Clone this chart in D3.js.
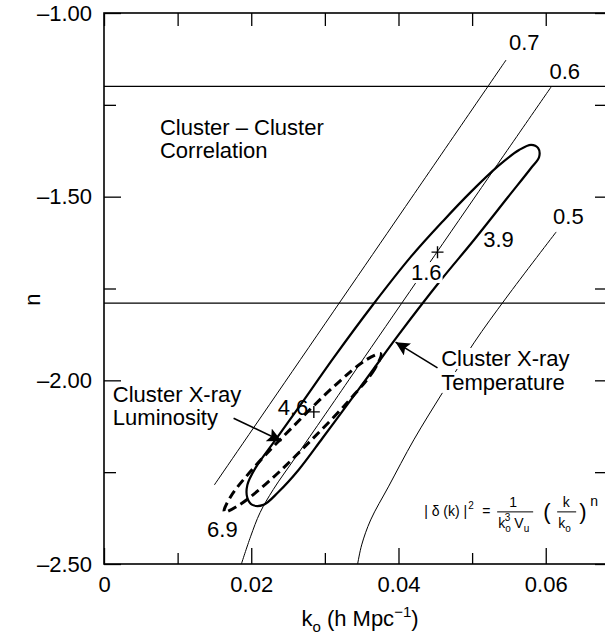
<!DOCTYPE html>
<html>
<head>
<meta charset="utf-8">
<script src="https://cdn.jsdelivr.net/npm/d3@7/dist/d3.min.js"></script>
<style>
  body { margin: 0; background: #fff; }
  svg { display: block; font-family: "Liberation Sans", Arial, Helvetica, sans-serif; }
</style>
</head>
<body>
<div id="chart"></div>
<script>
// axis ticks
var xMajor = [0, 0.02, 0.04, 0.06];
var xLabels = ["0", "0.02", "0.04", "0.06"];
var xMinor = [0.01, 0.03, 0.05];
var yMajor = [-1.0, -1.5, -2.0, -2.5];
var yLabels = ["\u20131.00", "\u20131.50", "\u20132.00", "\u20132.50"];
var yMinor = [-1.25, -1.75, -2.25];

// cluster-cluster correlation band
var bandN = [-1.20, -1.79];

// normalisation curves (k0, n)
var curve07 = [[0.01498, -2.285], [0.04167, -1.506], [0.05461, -1.128]];
var curve06 = [[0.01866, -2.5], [0.0199, -2.426], [0.0212, -2.36], [0.0230, -2.297],
  [0.0260, -2.210], [0.0300, -2.094], [0.03391, -1.980], [0.05011, -1.509], [0.06074, -1.201]];
var curve05 = [[0.03445, -2.5], [0.03500, -2.448], [0.03622, -2.380], [0.03868, -2.288],
  [0.04208, -2.162], [0.04603, -2.032], [0.05025, -1.898], [0.05461, -1.776], [0.06142, -1.596]];

// likelihood contours
var tempContour = [[0.02015, -2.339], [0.01947, -2.320], [0.01947, -2.285], [0.02056, -2.239],
  [0.02329, -2.162], [0.02669, -2.067], [0.03118, -1.939], [0.03650, -1.795], [0.04167, -1.664],
  [0.04616, -1.564], [0.04984, -1.487], [0.05352, -1.417], [0.05638, -1.373], [0.05801, -1.359],
  [0.05897, -1.368], [0.05910, -1.392], [0.05801, -1.422], [0.05488, -1.501], [0.05025, -1.618],
  [0.04576, -1.727], [0.03990, -1.879], [0.03622, -1.980], [0.03350, -2.054], [0.02969, -2.157],
  [0.02642, -2.244], [0.02369, -2.304], [0.02165, -2.339]];
var lumContour = [[0.03759, -1.928], [0.03677, -1.969], [0.03323, -2.056], [0.02805, -2.165],
  [0.02261, -2.271], [0.01838, -2.339], [0.01634, -2.358], [0.01716, -2.318], [0.02070, -2.230],
  [0.02587, -2.122], [0.03132, -2.015], [0.03554, -1.945]];
var bestFit = [[0.0453, -1.651], [0.0285, -2.086]];

// labels: text, k0, n
var curveLabels = [["0.7", 0.0550, -1.101], ["0.6", 0.0605, -1.180], ["0.5", 0.0610, -1.574],
  ["3.9", 0.0515, -1.637], ["1.6", 0.0417, -1.727], ["4.6", 0.0236, -2.094], ["6.9", 0.0140, -2.426]];

var W = 605, H = 634;
var svg = d3.select("#chart").append("svg").attr("width", W).attr("height", H);

var x = d3.scaleLinear().domain([0, 0.069]).range([104, 612]);
var y = d3.scaleLinear().domain([-2.5, -1.0]).range([564, 13]);

var defs = svg.append("defs");
defs.append("marker").attr("id", "head")
  .attr("viewBox", "0 0 10 10").attr("refX", 10).attr("refY", 5)
  .attr("markerWidth", 14).attr("markerHeight", 14).attr("markerUnits", "userSpaceOnUse")
  .attr("orient", "auto")
  .append("path").attr("d", "M0,0 L10,5 L0,10 L2,5 Z").attr("fill", "#000");

function styleAxis(g) {
  g.select(".domain").remove();
  g.selectAll("line").attr("stroke", "#000").attr("stroke-width", 1.3);
  g.attr("font-size", 22).attr("font-family", null);
  g.selectAll("text").attr("fill", "#000");
}

// axes, ticks pointing inward
svg.append("g").attr("transform", "translate(0," + y(-2.5) + ")")
  .call(d3.axisBottom(x).tickValues(xMajor).tickFormat(function(d, i) { return xLabels[i]; })
    .tickSizeInner(-16).tickSizeOuter(0).tickPadding(12))
  .call(styleAxis);
svg.append("g").attr("transform", "translate(0," + y(-2.5) + ")")
  .call(d3.axisBottom(x).tickValues(xMinor).tickFormat("").tickSizeInner(-11).tickSizeOuter(0))
  .call(styleAxis);
svg.append("g").attr("transform", "translate(0," + y(-1.0) + ")")
  .call(d3.axisTop(x).tickValues(xMajor.concat(xMinor)).tickFormat("").tickSizeInner(-13).tickSizeOuter(0))
  .call(styleAxis);
svg.append("g").attr("transform", "translate(" + x(0) + ",0)")
  .call(d3.axisLeft(y).tickValues(yMajor).tickFormat(function(d, i) { return yLabels[i]; })
    .tickSizeInner(-17).tickSizeOuter(0).tickPadding(12))
  .call(styleAxis);
svg.append("g").attr("transform", "translate(" + x(0) + ",0)")
  .call(d3.axisLeft(y).tickValues(yMinor).tickFormat("").tickSizeInner(-12).tickSizeOuter(0))
  .call(styleAxis);
svg.append("g").attr("transform", "translate(" + x(0.069) + ",0)")
  .call(d3.axisRight(y).tickValues(yMajor.concat(yMinor)).tickFormat("").tickSizeInner(-17).tickSizeOuter(0))
  .call(styleAxis);

// frame
svg.append("rect")
  .attr("x", x(0)).attr("y", y(-1.0))
  .attr("width", x(0.069) - x(0)).attr("height", y(-2.5) - y(-1.0))
  .attr("fill", "none").attr("stroke", "#000").attr("stroke-width", 1.6);

// band lines
svg.selectAll(".band").data(bandN).enter().append("line")
  .attr("x1", x(0)).attr("x2", x(0.069))
  .attr("y1", function(d) { return y(d); }).attr("y2", function(d) { return y(d); })
  .attr("stroke", "#000").attr("stroke-width", 1.3);

var line = d3.line().x(function(d) { return x(d[0]); }).y(function(d) { return y(d[1]); })
  .curve(d3.curveCatmullRom);
var loop = d3.line().x(function(d) { return x(d[0]); }).y(function(d) { return y(d[1]); })
  .curve(d3.curveCatmullRomClosed);

[curve07, curve06, curve05].forEach(function(c) {
  svg.append("path").attr("d", line(c)).attr("fill", "none")
    .attr("stroke", "#000").attr("stroke-width", 1);
});

svg.append("path").attr("d", loop(tempContour)).attr("fill", "none")
  .attr("stroke", "#000").attr("stroke-width", 2.2);
svg.append("path").attr("d", loop(lumContour)).attr("fill", "none")
  .attr("stroke", "#000").attr("stroke-width", 3).attr("stroke-dasharray", "9,5");

// best fit crosses
bestFit.forEach(function(p) {
  var cx = x(p[0]), cy = y(p[1]);
  svg.append("path").attr("d", "M" + (cx - 6) + "," + cy + "H" + (cx + 6) + "M" + cx + "," + (cy - 6) + "V" + (cy + 6))
    .attr("stroke", "#000").attr("stroke-width", 1.4);
});

// text with optional white box behind
function label(txt, k, n, size, boxed) {
  var g = svg.append("g");
  var t = g.append("text").attr("x", x(k)).attr("y", y(n)).attr("font-size", size).text(txt);
  if (boxed) {
    var b = t.node().getBBox();
    g.insert("rect", "text").attr("x", b.x - 1).attr("y", b.y + 2)
      .attr("width", b.width + 2).attr("height", b.height - 4).attr("fill", "#fff");
  }
  return t;
}

curveLabels.forEach(function(l) { label(l[0], l[1], l[2], 22, l[0] === "1.6"); });

label("Cluster \u2013 Cluster", 0.0076, -1.332, 22, false);
label("Correlation", 0.0076, -1.395, 22, false);
label("Cluster X-ray", 0.0012, -2.059, 22, false);
label("Luminosity", 0.0012, -2.122, 22, false);
label("Cluster X-ray", 0.0458, -1.961, 22, true);
label("Temperature", 0.0458, -2.026, 22, true);

// arrows
var arrows = [[[0.0176, -2.103], [0.0241, -2.165]], [[0.0453, -1.966], [0.0396, -1.896]]];
arrows.forEach(function(a) {
  svg.append("line").attr("x1", x(a[0][0])).attr("y1", y(a[0][1]))
    .attr("x2", x(a[1][0])).attr("y2", y(a[1][1]))
    .attr("stroke", "#000").attr("stroke-width", 1.6).attr("marker-end", "url(#head)");
});

// power spectrum formula
var fx = x(0.0424), fy = y(-2.369);
var f = svg.append("g").attr("font-size", 14);
var lhs = f.append("text").attr("x", fx + 8).attr("y", fy).text("|  \u03b4 (k)  |");
var lw = lhs.node().getComputedTextLength();
f.append("text").attr("x", fx + 9 + lw).attr("y", fy - 7).attr("font-size", 10).text("2");
f.append("text").attr("x", fx + 66).attr("y", fy).text("=");
f.append("text").attr("x", fx + 97).attr("y", fy - 9).attr("text-anchor", "middle").text("1");
f.append("line").attr("x1", fx + 81).attr("x2", fx + 117).attr("y1", fy - 4).attr("y2", fy - 4)
  .attr("stroke", "#000").attr("stroke-width", 1);
var den = f.append("text").attr("x", fx + 82).attr("y", fy + 12);
den.append("tspan").text("k");
den.append("tspan").attr("dy", 4).attr("font-size", 10).text("o");
den.append("tspan").attr("dx", -6).attr("dy", -11).attr("font-size", 10).text("3");
den.append("tspan").attr("dx", 4).attr("dy", 7).text("V");
den.append("tspan").attr("dy", 4).attr("font-size", 10).text("u");
f.append("text").attr("x", fx + 127).attr("y", fy + 3).attr("font-size", 22).text("(");
f.append("text").attr("x", fx + 150).attr("y", fy - 9).attr("text-anchor", "middle").text("k");
f.append("line").attr("x1", fx + 141).attr("x2", fx + 160).attr("y1", fy - 4).attr("y2", fy - 4)
  .attr("stroke", "#000").attr("stroke-width", 1);
var den2 = f.append("text").attr("x", fx + 142).attr("y", fy + 12);
den2.append("tspan").text("k");
den2.append("tspan").attr("dy", 4).attr("font-size", 10).text("o");
f.append("text").attr("x", fx + 163).attr("y", fy + 3).attr("font-size", 22).text(")");
f.append("text").attr("x", fx + 174).attr("y", fy - 10).text("n");

// axis titles
var xt = svg.append("text").attr("x", 360).attr("y", 626).attr("text-anchor", "middle").attr("font-size", 22);
xt.append("tspan").text("k");
xt.append("tspan").attr("dy", 6).attr("font-size", 15).text("o");
xt.append("tspan").attr("dy", -6).text(" (h Mpc");
xt.append("tspan").attr("dy", -9).attr("font-size", 15).text("\u22121");
xt.append("tspan").attr("dy", 9).text(")");

svg.append("text").attr("transform", "translate(40," + y(-1.78) + ") rotate(-90)")
  .attr("text-anchor", "middle").attr("font-size", 22).text("n");
</script>
</body>
</html>
